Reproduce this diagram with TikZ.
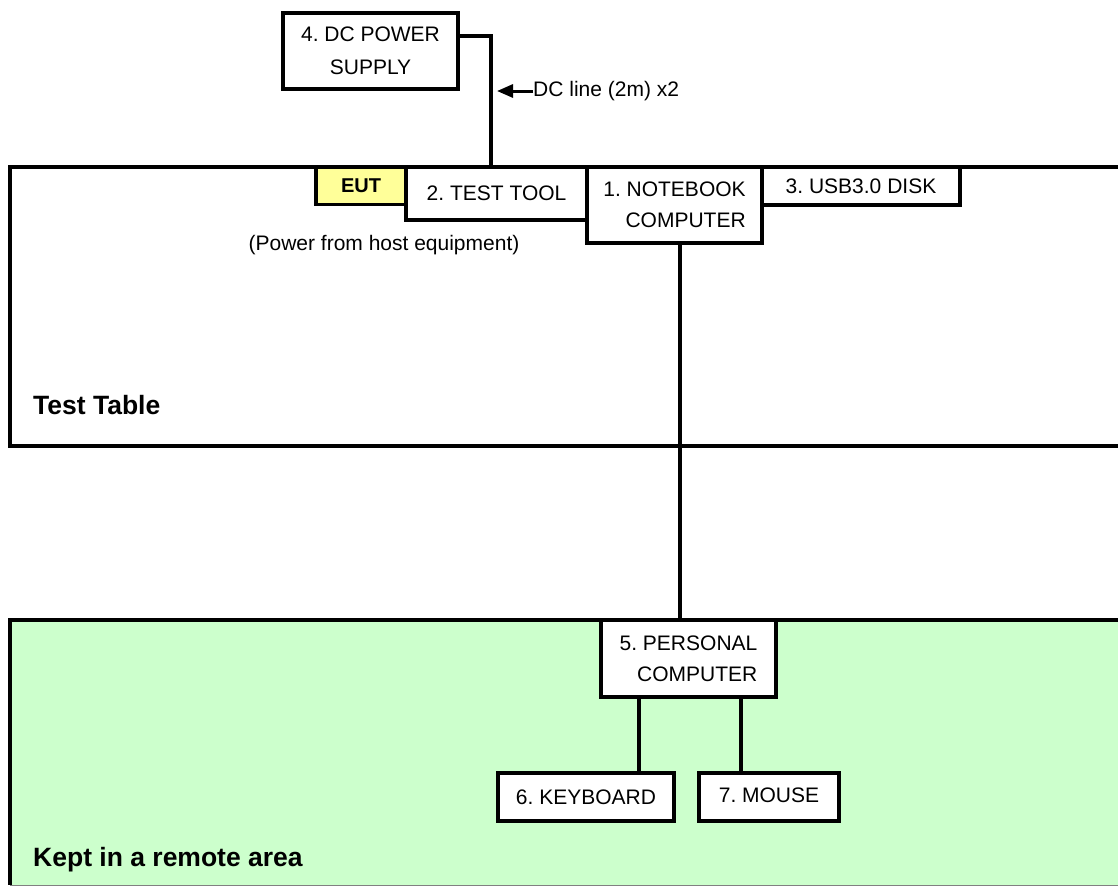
\documentclass[tikz,border=0pt]{standalone}
\usepackage{fontspec}
\setmainfont{Liberation Sans}
\usetikzlibrary{calc,arrows.meta}
\definecolor{eutyellow}{HTML}{FFFF99}
\definecolor{remotegreen}{HTML}{CCFFCC}
\frenchspacing
\begin{document}
\begin{tikzpicture}[x=1pt,y=-1pt,
  txt/.style={font=\fontsize{21}{31}\selectfont},
  boldtxt/.style={font=\fontsize{26.5}{30}\selectfont\bfseries,inner sep=0pt},
  box/.style={draw,fill=white,line width=3.5pt,inner sep=0pt,txt,align=center},
  rbox/.style={box,align=right},
  wire/.style={line width=3.5pt},
]
\useasboundingbox (0,0) rectangle (1118,887);
\clip (0,0) rectangle (1118,887);
% remote area
\fill[remotegreen] (10,620) rectangle (1130,885);
\draw[gray,line width=1pt] (10,885) -- (1130,885);
\draw[line width=4pt] (1130,620) -- (10,620) -- (10,885);
% test table
\draw[line width=4pt] (1130,167) -- (10,167) -- (10,446) -- (1130,446);
\node[boldtxt,anchor=base west] (tt) at (33,414) {Test Table};
\node[boldtxt,anchor=base west] (ra) at (33,866) {Kept in a remote area};

% boxes
\node[box,minimum width=175pt,minimum height=76pt] (dc) at (370.5,51) {\raisebox{2pt}{4. DC POWER}\\SUPPLY};
\node[box,fill=eutyellow,minimum width=90pt,minimum height=37pt,font=\fontsize{20}{24}\selectfont\bfseries] (eut) at (361,186) {EUT};
\node[box,minimum width=181pt,minimum height=53pt] (tool) at (496.5,193.5) {\raisebox{-3pt}{2. TEST TOOL}};
\node[rbox,minimum width=175pt,minimum height=76pt] (nb) at (674.5,205) {1. NOTEBOOK\\COMPUTER};
\node[box,minimum width=198pt,minimum height=38pt] (usb) at (861,186) {\raisebox{-3pt}{3. USB3.0 DISK}};
\node[txt] (pwr) at (384,245) {(Power from host equipment)};

\node[rbox,minimum width=175pt,minimum height=77pt] (pc) at (688.5,658.5) {5. PERSONAL\\COMPUTER};
\node[box,minimum width=176pt,minimum height=48pt] (kb) at (586,797) {\raisebox{-3pt}{6. KEYBOARD}};
\node[box,minimum width=140pt,minimum height=48pt] (ms) at (769,797) {\raisebox{4pt}{7. MOUSE}};

% DC line
\coordinate (dcx) at (491,0);
\draw[wire] ($(dc.east)+(0,-15)$) -| (dcx |- tool.north);
\node[txt,anchor=west,inner sep=0pt] (dcl) at (533,91) {DC line (2m) x2};
\coordinate (arrtip) at (497,91);
\draw[line width=3pt,-{Triangle[length=16pt,width=13pt]}] (dcl.west) -- (arrtip);

% notebook to PC
\coordinate (nbx) at (680,0);
\draw[wire] (nbx |- nb.south) -- (nbx |- pc.north);
% PC to keyboard and mouse
\coordinate (kbx) at (639,0);
\coordinate (msx) at (741,0);
\draw[wire] (kbx |- pc.south) -- (kbx |- kb.north);
\draw[wire] (msx |- pc.south) -- (msx |- ms.north);
\end{tikzpicture}
\end{document}
